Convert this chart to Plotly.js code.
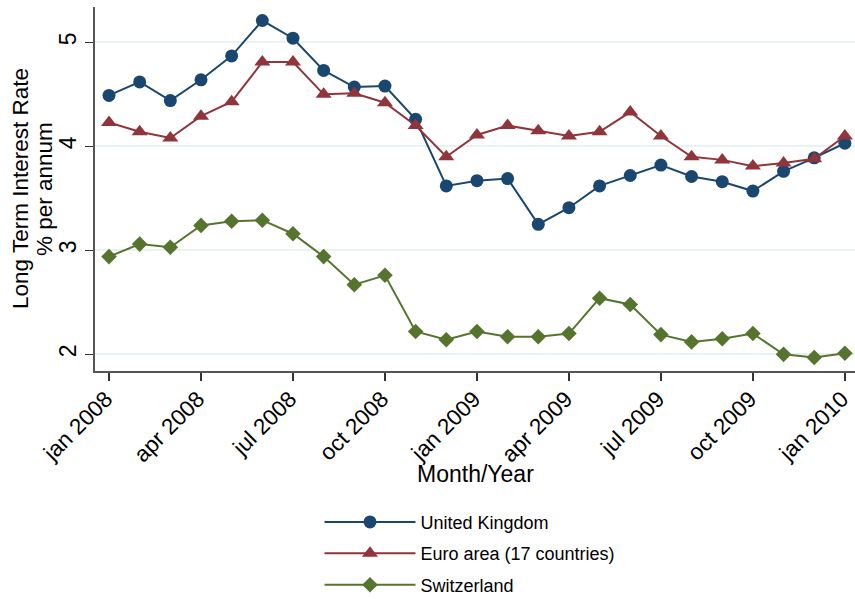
<!DOCTYPE html>
<html>
<head>
<meta charset="utf-8">
<script src="https://cdn.plot.ly/plotly-3.0.1.min.js"></script>
<style>html,body{margin:0;padding:0;background:#fff}#chart{width:855px;height:599px}</style>
</head>
<body>
<div id="chart"></div>
<script>
const months = ["2008-01","2008-02","2008-03","2008-04","2008-05","2008-06","2008-07","2008-08","2008-09","2008-10","2008-11","2008-12",
  "2009-01","2009-02","2009-03","2009-04","2009-05","2009-06","2009-07","2009-08","2009-09","2009-10","2009-11","2009-12","2010-01"];
const ukRates = [4.49,4.62,4.44,4.64,4.87,5.21,5.04,4.73,4.57,4.58,4.26,3.62,3.67,3.69,3.25,3.41,3.62,3.72,3.82,3.71,3.66,3.57,3.76,3.89,4.03];
const euroRates = [4.23,4.14,4.08,4.29,4.43,4.81,4.81,4.50,4.51,4.42,4.20,3.90,4.11,4.20,4.15,4.10,4.14,4.33,4.10,3.90,3.87,3.81,3.84,3.88,4.10];
const swissRates = [2.94,3.06,3.03,3.24,3.28,3.29,3.16,2.94,2.67,2.76,2.22,2.14,2.22,2.17,2.17,2.20,2.54,2.48,2.19,2.12,2.15,2.20,2.00,1.97,2.01];
const tickMonths = ["2008-01","2008-04","2008-07","2008-10","2009-01","2009-04","2009-07","2009-10","2010-01"];
const tickLabels = ["jan 2008","apr 2008","jul 2008","oct 2008","jan 2009","apr 2009","jul 2009","oct 2009","jan 2010"];
const seriesNames = ["United Kingdom","Euro area (17 countries)","Switzerland"];
const yTitleLines = ["Long Term Interest Rate","% per annum"];
const xTitle = "Month/Year";

const font = "Liberation Sans, Arial, sans-serif";
const traces = [
  {x: months, y: ukRates, name: seriesNames[0], legendgroup: "a", mode: "lines+markers",
   line: {color: "#1a476f", width: 2}, marker: {symbol: "circle", size: 13, color: "#1a476f"}},
  {x: months, y: euroRates, name: seriesNames[1], legendgroup: "b", mode: "lines+markers",
   line: {color: "#90353b", width: 2}, marker: {symbol: "triangle-up", size: 14, color: "#90353b"}},
  {x: months, y: swissRates, name: seriesNames[2], legendgroup: "c", mode: "lines+markers",
   line: {color: "#55752f", width: 2}, marker: {symbol: "diamond", size: 12, color: "#55752f"}}
];
const layout = {
  width: 855, height: 599,
  margin: {l: 95, r: 0, t: 7, b: 228, autoexpand: false},
  paper_bgcolor: "#fff", plot_bgcolor: "#fff",
  font: {family: font, color: "#000", size: 17},
  showlegend: true,
  legend: {x: 0.2954, xanchor: "left", y: -0.3645, yanchor: "top", orientation: "v",
    font: {family: font, size: 18, color: "#000"}, itemwidth: 91, tracegroupgap: 5,
    bgcolor: "rgba(0,0,0,0)"},
  annotations: [
    {xref: "paper", yref: "paper", x: (20 - 95) / 760, y: 0.5, xanchor: "center", yanchor: "middle",
     text: yTitleLines[0], textangle: -90, showarrow: false, font: {size: 22.5, family: font, color: "#000"}},
    {xref: "paper", yref: "paper", x: (44 - 95) / 760, y: 0.5, xanchor: "center", yanchor: "middle",
     text: yTitleLines[1], textangle: -90, showarrow: false, font: {size: 22.5, family: font, color: "#000"}},
    {xref: "paper", yref: "paper", x: (476 - 95) / 760, y: (371 - 474) / 364, xanchor: "center", yanchor: "middle",
     text: xTitle, showarrow: false, font: {size: 23, family: font, color: "#000"}}
  ],
  xaxis: {type: "category", categoryorder: "array", categoryarray: months,
    range: [-0.457, 24.33], tickmode: "array", tickvals: tickMonths, ticktext: tickLabels,
    tickangle: -45, ticks: "outside", ticklen: 8, tickwidth: 1.3, tickcolor: "#333",
    ticklabelstandoff: -4, ticklabelshift: -3,
    showline: true, linecolor: "#555", linewidth: 2, showgrid: false, zeroline: false,
    tickfont: {size: 22.5, family: font}, automargin: false},
  yaxis: {range: [1.84, 5.34], tickmode: "array", tickvals: [2,3,4,5],
    tickangle: -90, ticks: "outside", ticklen: 8, tickwidth: 1.3, tickcolor: "#333",
    showline: true, linecolor: "#555", linewidth: 2, showgrid: true, gridcolor: "#e9f1f2", gridwidth: 2,
    zeroline: false, tickfont: {size: 23, family: font}, automargin: false}
};
Plotly.newPlot("chart", traces, layout, {displayModeBar: false, staticPlot: true});
</script>
</body>
</html>
